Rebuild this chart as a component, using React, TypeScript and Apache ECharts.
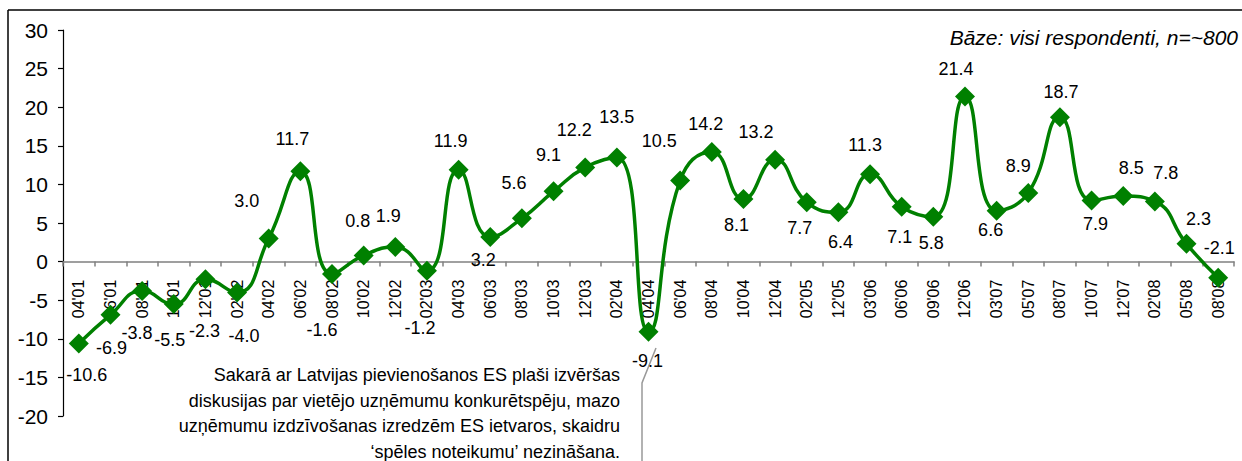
import React, { useEffect, useRef } from "react";
import * as echarts from "echarts";

const categories = [
  "04'01", "06'01", "08'01", "10'01", "12'01", "02'02", "04'02", "06'02", "08'02", "10'02",
  "12'02", "02'03", "04'03", "06'03", "08'03", "10'03", "12'03", "02'04", "04'04", "06'04",
  "08'04", "10'04", "12'04", "02'05", "12'05", "03'06", "06'06", "09'06", "12'06", "03'07",
  "05'07", "08'07", "10'07", "12'07", "02'08", "05'08", "08'08",
];

const values = [
  -10.6, -6.9, -3.8, -5.5, -2.3, -4.0, 3.0, 11.7, -1.6, 0.8,
  1.9, -1.2, 11.9, 3.2, 5.6, 9.1, 12.2, 13.5, -9.1, 10.5,
  14.2, 8.1, 13.2, 7.7, 6.4, 11.3, 7.1, 5.8, 21.4, 6.6,
  8.9, 18.7, 7.9, 8.5, 7.8, 2.3, -2.1,
];

// label placement relative to each marker (dx, dy in px)
const labelOffsets = [
  [8, 32], [1, 33], [-5, 42], [-4, 36], [-1, 52], [7, 44], [-22, -37], [-8, -32], [-10, 56], [-6, -34],
  [-7, -31], [-7, 57], [-8, -29], [-7, 23], [-8, -35], [-5, -36], [-11, -37], [0, -40], [-1, 29], [-21, -40],
  [-6, -28], [-7, 26], [-19, -28], [-7, 26], [2, 30], [-5, -29], [-2, 30], [-2, 26], [-9, -27], [-6, 19],
  [-10, -27], [1, -25], [4, 23], [8, -28], [11, -28], [12, -25], [1, -30],
];

const yTicks = { min: -20, max: 30, interval: 5 };

const titleText = "Bāze: visi respondenti, n=~800";
const noteLines = [
  "Sakarā ar Latvijas pievienošanos ES plaši izvēršas",
  "diskusijas par vietējo uzņēmumu konkurētspēju, mazo",
  "uzņēmumu izdzīvošanas izredzēm ES ietvaros, skaidru",
  "‘spēles noteikumu’ nezināšana.",
];

const FONT = "'Liberation Sans', Arial, Helvetica, sans-serif";

const GRID = { left: 63, right: 8, top: 30, bottom: 45 };
const CHART_H = 461;

export default function App() {
  const ref = useRef<HTMLDivElement>(null);

  useEffect(() => {
    if (!ref.current) return;
    const chart = echarts.init(ref.current, undefined, { renderer: "svg" });
    const plotH = CHART_H - GRID.top - GRID.bottom;
    const zeroOffset = -(plotH * (0 - yTicks.min)) / (yTicks.max - yTicks.min);
    chart.setOption({
      animation: false,
      backgroundColor: "#ffffff",
      textStyle: { fontFamily: FONT },
      grid: { ...GRID, containLabel: false, outerBoundsMode: "none" },
      xAxis: {
        type: "category",
        data: categories,
        boundaryGap: true,
        position: "bottom",
        offset: zeroOffset,
        axisLine: { onZero: false, lineStyle: { color: "#808080", width: 1.5 } },
        axisTick: { show: true, interval: 0, length: 5, lineStyle: { color: "#808080", width: 1.5 } },
        axisLabel: {
          interval: 0,
          rotate: 90,
          margin: 18,
          fontSize: 16,
          color: "#000000",
          fontFamily: FONT,
        },
        splitLine: { show: false },
      },
      yAxis: {
        type: "value",
        min: yTicks.min,
        max: yTicks.max,
        interval: yTicks.interval,
        axisLine: { show: true, lineStyle: { color: "#000000", width: 1.2 } },
        axisTick: { show: true, length: 5, lineStyle: { color: "#000000", width: 1.2 } },
        axisLabel: { fontSize: 21, color: "#000000", margin: 15, fontFamily: FONT },
        splitLine: { show: false },
      },
      series: [
        {
          type: "line",
          smooth: 0.5,
          data: values.map((v, i) => ({ value: v, label: { offset: labelOffsets[i] } })),
          lineStyle: { color: "#008000", width: 3.5 },
          itemStyle: { color: "#008000" },
          symbol: "diamond",
          symbolSize: 20,
          label: {
            show: true,
            position: "inside",
            fontSize: 18,
            color: "#000000",
            fontFamily: FONT,
            formatter: (p: any) => Number(p.value).toFixed(1),
          },
          z: 3,
        },
      ],
      graphic: [
        { type: "line", shape: { x1: 8, y1: 10, x2: 1250, y2: 10 }, style: { stroke: "#000000", lineWidth: 1.5 }, silent: true },
        { type: "line", shape: { x1: 8, y1: 10, x2: 8, y2: 470 }, style: { stroke: "#000000", lineWidth: 1.5 }, silent: true },
        {
          type: "text",
          right: 4,
          top: 27,
          style: {
            text: titleText,
            fontSize: 21,
            fontStyle: "italic",
            fontFamily: FONT,
            fill: "#000000",
          },
        },
        {
          type: "text",
          x: 620,
          y: 362,
          style: {
            text: noteLines.join("\n"),
            fontSize: 18,
            lineHeight: 25.7,
            fontFamily: FONT,
            fill: "#000000",
            align: "right",
            verticalAlign: "top",
          },
        },
        {
          type: "polyline",
          shape: { points: [[656, 348], [642, 383], [642, 470]] },
          style: { stroke: "#999999", lineWidth: 1.5, fill: null },
          silent: true,
        },
      ],
    });
    return () => chart.dispose();
  }, []);

  return (
    <div
      ref={ref}
      style={{ position: "fixed", left: 0, top: 0, width: 1242, height: 461, background: "#fff" }}
    />
  );
}
